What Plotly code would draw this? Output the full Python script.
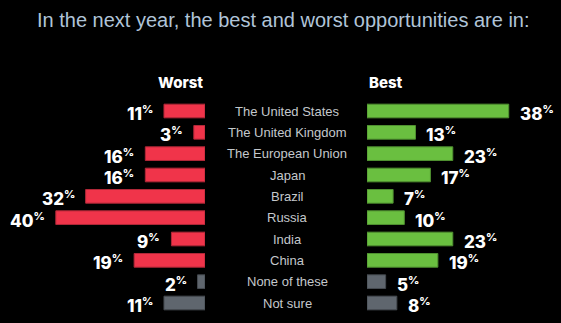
import plotly.graph_objects as go

categories = ["The United States", "The United Kingdom", "The European Union", "Japan",
              "Brazil", "Russia", "India", "China", "None of these", "Not sure"]
worst = [11, 3, 16, 16, 32, 40, 9, 19, 2, 11]
best = [38, 13, 23, 17, 7, 10, 23, 19, 5, 8]
title_text = "In the next year, the best and worst opportunities are in:"
RED, GREEN, GREY = "#f0344a", "#6abf40", "#5f666e"

W, H = 561, 323
PX = 3.73
n = len(categories)
ypos = list(range(n))
wcol = [RED] * 8 + [GREY] * 2
bcol = [GREEN] * 8 + [GREY] * 2
wline = ["#b02838"] * 8 + ["#454a50"] * 2
bline = ["#4f9030"] * 8 + ["#454a50"] * 2

fig = go.Figure()
fig.add_trace(go.Bar(x=worst, y=ypos, orientation="h", xaxis="x", yaxis="y",
                     width=0.64,
                     marker=dict(color=wcol, line=dict(color=wline, width=1)),
                     hoverinfo="skip"))
fig.add_trace(go.Bar(x=best, y=ypos, orientation="h", xaxis="x2", yaxis="y",
                     width=0.64,
                     marker=dict(color=bcol, line=dict(color=bline, width=1)),
                     hoverinfo="skip"))

left_edge = 205
right_start = 367
unit = 192 / 9
r0 = -111 / unit
r1 = r0 + H / unit

ann = []
vfont = dict(family="Inter", size=17, color="white", weight=800)
pct = "<span style='font-size:11px;baseline-shift:super'>%</span>"
for i, c in enumerate(categories):
    ann.append(dict(x=287 / W, xref="paper", y=i, yref="y", text=c, showarrow=False,
                    font=dict(family="Liberation Sans, Arial", size=13, color="#c4c8cc"),
                    xanchor="center", yanchor="middle"))
    ann.append(dict(x=worst[i], xref="x", y=i, yref="y",
                    text=f"{worst[i]}{pct}",
                    showarrow=False, font=vfont, xanchor="right", yanchor="middle",
                    xshift=-9, yshift=-2))
    ann.append(dict(x=best[i], xref="x2", y=i, yref="y",
                    text=f"{best[i]}{pct}",
                    showarrow=False, font=vfont, xanchor="left", yanchor="middle",
                    xshift=9, yshift=-2))

hy = (82 - 111) / unit
ann.append(dict(x=left_edge / W, xref="paper", y=hy, yref="y", text="Worst", showarrow=False,
                font=dict(family="Inter", size=15, color="white", weight=800),
                xanchor="right", yanchor="middle"))
ann.append(dict(x=right_start / W, xref="paper", y=hy, yref="y", text="Best", showarrow=False,
                font=dict(family="Inter", size=15, color="white", weight=800),
                xanchor="left", yanchor="middle"))
ann.append(dict(x=283 / W, xref="paper", y=1 - 20 / H, yref="paper", text=title_text,
                showarrow=False, font=dict(family="Liberation Sans, Arial", size=20, color="#b0c4d8"),
                xanchor="center", yanchor="middle"))

fig.update_layout(
    width=W, height=H, margin=dict(l=0, r=0, t=0, b=0),
    paper_bgcolor="black", plot_bgcolor="black", showlegend=False,
    barmode="overlay",
    xaxis=dict(domain=[0, left_edge / W], range=[left_edge / PX, 0], visible=False, fixedrange=True),
    xaxis2=dict(domain=[right_start / W, 1], range=[0, (W - right_start) / PX], visible=False, fixedrange=True),
    yaxis=dict(domain=[0, 1], range=[r1, r0], visible=False, fixedrange=True),
    annotations=ann,
)
fig.write_html("out.html")
